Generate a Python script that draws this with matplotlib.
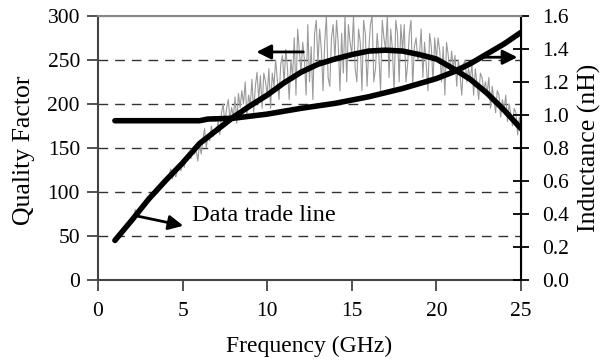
import matplotlib.pyplot as plt

plt.rcParams['font.family'] = ['Liberation Serif', 'DejaVu Serif']

# thick fitted quality-factor trend line (GHz, Q)
q_freq = [1, 2, 3, 4, 5, 6, 7, 8, 9, 10, 11, 12, 13, 14, 15, 16, 17, 18, 19, 20, 21, 22, 23, 24, 25]
q_fit = [45, 68, 92, 113, 133, 155, 170, 185, 198, 210, 224, 236, 245, 251, 256, 260, 261, 260, 256, 251, 240, 228, 212, 193, 172]

# inductance (nH), right axis
l_freq = [1, 2, 3, 4, 5, 6, 6.5, 8, 10, 12, 14, 16, 18, 20, 21, 22, 23, 24, 25]
l_val = [0.965, 0.965, 0.965, 0.965, 0.965, 0.965, 0.975, 0.98, 1.005, 1.04, 1.07, 1.11, 1.16, 1.22, 1.26, 1.31, 1.37, 1.43, 1.50]

# measured (noisy) quality factor, 1.0 .. 25.0 GHz in 0.1 GHz steps
q_raw = [
    46, 47, 50, 52, 55, 57, 60, 62, 64, 66,
    68, 70, 80, 73, 76, 79, 81, 84, 86, 89,
    92, 94, 96, 98, 101, 100, 104, 106, 110, 111,
    113, 112, 118, 126, 115, 122, 117, 126, 131, 124,
    133, 128, 140, 136, 145, 138, 150, 143, 148, 135,
    155, 143, 160, 172, 150, 165, 158, 175, 163, 170,
    170, 180, 165, 190, 200, 176, 195, 205, 182, 196,
    185, 208, 178, 212, 196, 215, 200, 225, 185, 210,
    198, 228, 190, 220, 236, 205, 232, 195, 235, 225,
    210, 240, 195, 235, 220, 250, 228, 205, 245, 255,
    224, 262, 240, 205, 250, 230, 275, 210, 285, 260,
    236, 270, 250, 210, 290, 225, 265, 205, 280, 295,
    245, 285, 262, 215, 270, 300, 230, 220, 275, 290,
    251, 295, 268, 215, 280, 235, 300, 225, 290, 270,
    256, 300, 240, 225, 285, 270, 215, 295, 280, 220,
    260, 290, 300, 225, 240, 280, 255, 215, 295, 275,
    261, 300, 230, 285, 262, 215, 295, 280, 225, 290,
    260, 290, 225, 245, 280, 295, 220, 265, 275, 250,
    256, 285, 230, 270, 245, 215, 280, 265, 225, 275,
    251, 275, 260, 225, 265, 210, 270, 255, 235, 260,
    240, 255, 220, 250, 232, 210, 245, 250, 225, 240,
    228, 245, 210, 240, 222, 205, 235, 230, 215, 225,
    212, 230, 195, 220, 205, 190, 215, 210, 185, 205,
    193, 210, 180, 200, 188, 175, 195, 190, 165, 185,
    172,
]
raw_freq = [1 + i / 10 for i in range(len(q_raw))]

fig = plt.figure(figsize=(6.03, 3.6), dpi=100)
ax = fig.add_axes([0.1625, 0.222, 0.7015, 0.734])
ax2 = ax.twinx()

for y in [50, 100, 150, 200, 250]:
    ax.axhline(y, color='#333333', lw=1, dashes=(7, 5), zorder=1)

ax.plot(raw_freq, q_raw, color='#9a9a9a', lw=0.8, zorder=2)
ax.plot(q_freq, q_fit, color='black', lw=4, solid_capstyle='round', zorder=3)
ax2.plot(l_freq, l_val, color='black', lw=4, solid_capstyle='round', zorder=3)

# arrows
arrow = dict(arrowstyle='-|>', color='black', lw=2, mutation_scale=22)
ax.annotate('', xy=(9.2, 259), xytext=(12.3, 259), arrowprops=arrow)
ax.annotate('', xy=(24.95, 253), xytext=(22.6, 253), arrowprops=arrow)
ax.annotate('', xy=(5.2, 61), xytext=(2.0, 74), arrowprops=arrow)
ax.text(5.55, 73, 'Data trade line', fontsize=17.5, va='center', ha='left')

ax.set_xlim(0, 25)
ax.set_ylim(0, 300)
ax2.set_ylim(0, 1.6)
ax.set_xticks([0, 5, 10, 15, 20, 25])
ax.set_yticks([0, 50, 100, 150, 200, 250, 300])
ax2.set_yticks([0, 0.2, 0.4, 0.6, 0.8, 1.0, 1.2, 1.4, 1.6])
ax2.set_yticklabels(['0.0', '0.2', '0.4', '0.6', '0.8', '1.0', '1.2', '1.4', '1.6'])

ax.tick_params(axis='both', labelsize=15.5, direction='out', length=8, width=1.3, color='#444444')
ax.tick_params(axis='x', pad=8)
ax.tick_params(axis='y', pad=5)
ax2.tick_params(axis='y', labelsize=15.5, direction='inout', length=12, width=1.3, pad=9)

for s in ['left', 'bottom']:
    ax.spines[s].set_color('#444444')
    ax.spines[s].set_linewidth(1.5)
ax2.spines['top'].set_color('#888888')
ax2.spines['top'].set_linewidth(1.5)
ax2.spines['right'].set_linewidth(1.5)
ax2.spines['left'].set_visible(False)
ax2.spines['bottom'].set_visible(False)

ax.set_xlabel('Frequency (GHz)', fontsize=17)
ax.set_ylabel('Quality Factor', fontsize=18.5)
ax2.set_ylabel('Inductance (nH)', fontsize=18.5)
ax.xaxis.set_label_coords(0.5, -0.21)
ax.yaxis.set_label_coords(-0.15, 0.49)
ax2.yaxis.set_label_coords(1.135, 0.5)

fig.savefig('out.png', dpi=100)
